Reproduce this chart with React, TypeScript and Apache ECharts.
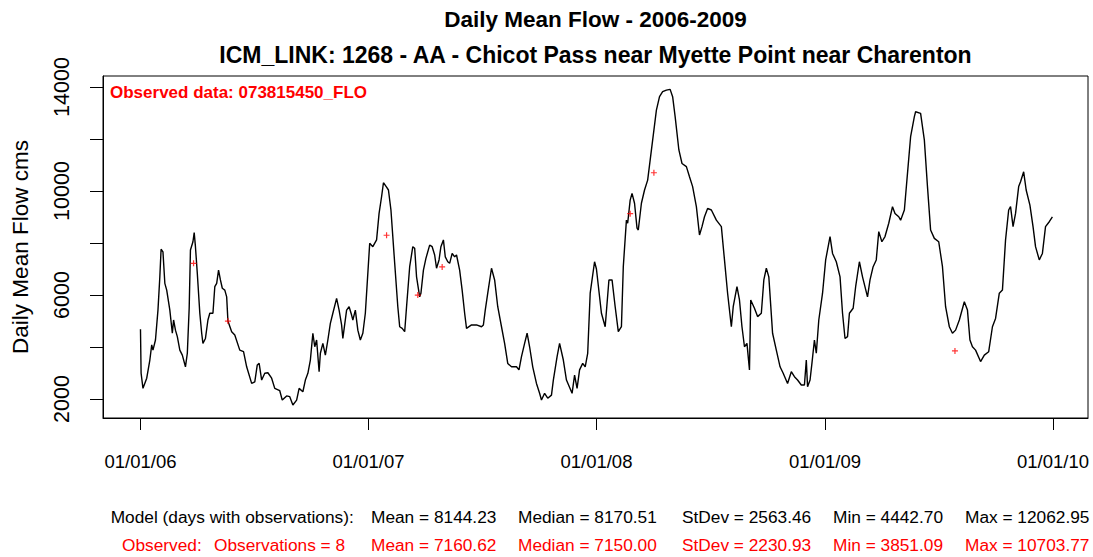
import React, { useEffect, useRef } from 'react';
import * as echarts from 'echarts';

const TITLE = 'Daily Mean Flow - 2006-2009';
const SUBTITLE = 'ICM_LINK: 1268 - AA - Chicot Pass near Myette Point near Charenton';
const OBS_LABEL = 'Observed data: 073815450_FLO';
const Y_NAME = 'Daily Mean Flow cms';

// x: days since 01/01/2006
const X_TICK_DAYS = [0, 365, 730, 1096, 1461];
const X_TICK_LABELS = ['01/01/06', '01/01/07', '01/01/08', '01/01/09', '01/01/10'];
const Y_TICKS = [2000, 4000, 6000, 8000, 10000, 12000, 14000];
const Y_LABELS = [2000, 6000, 10000, 14000];

const MODEL_DAYS = [
  0, 1, 4, 10, 15, 18, 20, 24, 28, 31, 33, 36, 39, 42, 47, 51, 53, 56, 59, 63, 67, 72, 75, 78, 80, 84, 86, 88, 91, 95, 98,
  100, 104, 108, 111, 116, 119, 122, 125, 128, 131, 135, 138, 140, 146, 151, 159, 165, 170, 178, 183, 187, 190, 194, 199,
  204, 210, 215, 223, 227, 234, 239, 244, 250, 254, 260, 264, 268, 272, 276, 279, 282, 286, 288, 292, 296, 300, 304, 308,
  314, 318, 322, 324, 330, 334, 338, 340, 344, 348, 352, 356, 360, 363, 367, 372, 378, 382, 386, 389, 394, 397, 401, 407,
  412, 415, 419, 423, 426, 431, 436, 439, 442, 447, 449, 453, 457, 463, 467, 471, 474, 478, 481, 485, 488, 492, 495, 499,
  503, 506, 511, 515, 519, 522, 530, 538, 546, 549, 552, 556, 562, 567, 572, 578, 583, 588, 594, 602, 606, 610, 615, 619,
  623, 628, 634, 639, 642, 647, 652, 658, 661, 667, 671, 677, 682, 691, 695, 699, 703, 708, 712, 716, 720, 727, 730, 738,
  744, 750, 755, 760, 765, 770, 773, 778, 780, 784, 787, 791, 795, 797, 802, 807, 812, 816, 820, 826, 831, 836, 842, 848,
  852, 856, 862, 867, 874, 879, 884, 890, 895, 899, 903, 908, 914, 922, 930, 935, 940, 946, 949, 955, 959, 963, 967, 971,
  975, 977, 983, 988, 994, 998, 1002, 1006, 1012, 1018, 1024, 1029, 1036, 1042, 1047, 1052, 1058, 1063, 1066, 1068, 1072,
  1075, 1079, 1082, 1086, 1092, 1097, 1104, 1108, 1114, 1120, 1124, 1128, 1132, 1135, 1141, 1145, 1151, 1156, 1164, 1168,
  1173, 1178, 1182, 1187, 1192, 1198, 1204, 1208, 1214, 1217, 1223, 1228, 1233, 1239, 1241, 1249, 1255, 1260, 1265, 1271,
  1278, 1284, 1289, 1295, 1300, 1305, 1311, 1319, 1324, 1328, 1332, 1337, 1345, 1351, 1358, 1364, 1369, 1375, 1380, 1385,
  1390, 1393, 1397, 1401, 1406, 1409, 1414, 1418, 1424, 1429, 1433, 1439, 1444, 1449, 1455, 1460,
];
const MODEL_FLOW = [
  4680, 2990, 2410, 2800, 3500, 4080, 3880, 4270, 5420, 6700, 7760, 7660, 6450, 6190, 5420, 4530, 5040, 4650, 4400, 3880,
  3690, 3240, 3760, 5510, 7730, 8050, 8400, 7860, 6830, 5300, 4530,
  4140, 4330, 5040, 5300, 5300, 6320, 6450, 6960, 6580, 6260, 6190, 5930, 5000, 4590, 4460, 3880, 3820, 3240, 2600, 2660,
  3310, 3370, 2730, 2990,
  3010, 2800, 2410, 2320, 1960, 2120, 2090, 1770, 1960, 2410, 2280, 2730, 2990, 3500, 4530, 4010, 4270, 3050, 3760, 4140,
  3690, 4270, 4910, 5300,
  5870, 5420, 4850, 4330, 5420, 5550, 5230, 5040, 5420, 4650, 4270, 4530, 5300, 6450, 7990, 7860, 8120, 9140, 9780, 10320,
  10150, 10040, 9270, 7220,
  5550, 4780, 4720, 4590, 5550, 7090, 7860, 7800, 6700, 5930, 6070, 6960, 7410, 7920, 7860, 7540, 7030, 7350, 7860, 8120,
  7470, 7280, 7220, 7600,
  7470, 7540, 6960, 6190, 5300, 4720, 4850, 4850, 4780, 4850, 5420, 6070, 7030, 6580, 5550, 4780, 4140, 3370, 3240, 3240,
  3120, 3630, 4140, 4530,
  4010, 3240, 2600, 2220, 1960, 2220, 2030, 2150, 2730, 3630, 4140, 3500, 2730, 2220, 2920, 2410, 3120, 3370, 3240, 3760,
  6070, 7280, 7000, 5300,
  4780, 6580, 6580, 5550, 4590, 4780, 7090, 8880, 8760, 9650, 9910, 9530, 8570, 8500, 9530, 10040, 10420, 11190, 11960,
  13110, 13630, 13820, 13880, 13910,
  13630, 12860, 11580, 11060, 10940, 10550, 10170, 9400, 8310, 8630, 9010, 9330, 9270, 8880, 8630, 7350, 6070, 4780, 5550,
  6320, 5810, 4780, 4010, 4140,
  3120, 5810, 5490, 5170, 5300, 6580, 7030, 6700, 4530, 3880, 3240, 2990, 2600, 3050, 2860, 2730, 2540, 2540, 3500, 2470,
  2730,
  3370, 4270, 3760, 5040, 6070, 7350, 8250, 7600, 7280, 6700, 5300, 4330, 4400, 5300, 5490, 6320, 7280, 6700, 5930, 6580,
  7090, 7350, 8440, 8050, 8250, 8760, 9400, 9140, 9010, 8880, 9270, 10680, 12090, 12860, 13050, 12990, 11960, 10170, 8500,
  8180,
  8050, 7090, 5550, 4780, 4530, 4650, 5040, 5740, 5420, 4270, 4010, 3880, 3440, 3690, 3820, 4780, 5100, 6070, 6190, 8120,
  9270, 9400, 8630, 9140, 10170, 10360, 10740, 10040, 9460, 8630, 7860, 7350, 7600, 8630, 8820, 9010,
];

// Observed values
const OBS_DAYS = [85, 140, 394, 444, 483, 784, 822, 1304];
const OBS_FLOW = [7220, 5000, 8300, 6000, 7080, 9130, 10704, 3851];

// Summary statistics rows
const MODEL_STATS = ['Model (days with observations):', 'Mean = 8144.23', 'Median = 8170.51', 'StDev = 2563.46', 'Min = 4442.70', 'Max = 12062.95'];
const OBS_STATS = ['Observed:', 'Observations = 8', 'Mean = 7160.62', 'Median = 7150.00', 'StDev = 2230.93', 'Min = 3851.09', 'Max = 10703.77'];

const FONT = '"Liberation Sans", Arial, sans-serif';

export default function App() {
  const ref = useRef<HTMLDivElement>(null);
  useEffect(() => {
    if (!ref.current) return;
    const chart = echarts.init(ref.current, undefined, { renderer: 'svg' });
    const modelData = MODEL_DAYS.map((d, i) => [d, MODEL_FLOW[i]]);
    const obsData = OBS_DAYS.map((d, i) => [d, OBS_FLOW[i]]);

    const modelX = [110.7, 371, 518, 682, 833, 965];
    const obsX = [122, 214, 371, 518, 682, 833, 965];
    const statText = (t: string, x: number, y: number, color: string) => ({
      type: 'text',
      x,
      y,
      style: { text: t, fill: color, fontSize: 17.3, fontFamily: FONT, textAlign: 'left', textVerticalAlign: 'middle' },
    });

    chart.setOption({
      animation: false,
      backgroundColor: '#ffffff',
      grid: { left: 103, top: 76, width: 985, height: 342, show: true, borderColor: '#000', borderWidth: 1, backgroundColor: 'transparent' },
      xAxis: {
        type: 'value',
        min: -60,
        max: 1517,
        axisLine: { show: true, onZero: false, lineStyle: { color: '#000', width: 1 } },
        splitLine: { show: false },
        axisTick: { show: true, length: 12, lineStyle: { color: '#000', width: 1 }, customValues: X_TICK_DAYS },
        axisLabel: {
          customValues: X_TICK_DAYS,
          margin: 34,
          color: '#000',
          fontSize: 18.5,
          fontFamily: FONT,
          formatter: (v: number) => {
            const i = X_TICK_DAYS.indexOf(v);
            return i >= 0 ? X_TICK_LABELS[i] : '';
          },
        },
      },
      yAxis: {
        type: 'value',
        min: 1270,
        max: 14425,
        name: Y_NAME,
        nameLocation: 'middle',
        nameRotate: 90,
        nameGap: 71,
        nameTextStyle: { color: '#000', fontSize: 22.5, fontFamily: FONT },
        axisLine: { show: true, onZero: false, lineStyle: { color: '#000', width: 1 } },
        splitLine: { show: false },
        axisTick: { show: true, length: 13, lineStyle: { color: '#000', width: 1 }, customValues: Y_TICKS },
        axisLabel: {
          customValues: Y_LABELS,
          rotate: 90,
          margin: 30,
          color: '#000',
          fontSize: 21.5,
          fontFamily: FONT,
          formatter: (v: number) => String(v),
        },
      },
      series: [
        {
          type: 'line',
          data: modelData,
          showSymbol: false,
          lineStyle: { color: '#000', width: 1.4 },
          itemStyle: { color: '#000' },
          z: 2,
        },
        {
          type: 'scatter',
          data: obsData,
          symbol: 'path://M2,0H3V2H5V3H3V5H2V3H0V2H2Z',
          symbolSize: 6,
          itemStyle: { color: '#ff0000' },
          z: 3,
        },
      ],
      graphic: [
        {
          type: 'text', x: 595.5, y: 19,
          style: { text: TITLE, fill: '#000', fontSize: 22.5, fontWeight: 'bold', fontFamily: FONT, textAlign: 'center', textVerticalAlign: 'middle' },
        },
        {
          type: 'text', x: 595.5, y: 55,
          style: { text: SUBTITLE, fill: '#000', fontSize: 23, fontWeight: 'bold', fontFamily: FONT, textAlign: 'center', textVerticalAlign: 'middle' },
        },
        {
          type: 'text', x: 110, y: 92,
          style: { text: OBS_LABEL, fill: '#ff0000', fontSize: 17, fontWeight: 'bold', fontFamily: FONT, textAlign: 'left', textVerticalAlign: 'middle' },
        },
        ...MODEL_STATS.map((t, i) => statText(t, modelX[i], 517, '#000')),
        ...OBS_STATS.map((t, i) => statText(t, obsX[i], 545, '#ff0000')),
      ],
    });
    return () => chart.dispose();
  }, []);
  return <div ref={ref} style={{ position: 'fixed', left: 0, top: 0, width: 1093, height: 557 }} />;
}
